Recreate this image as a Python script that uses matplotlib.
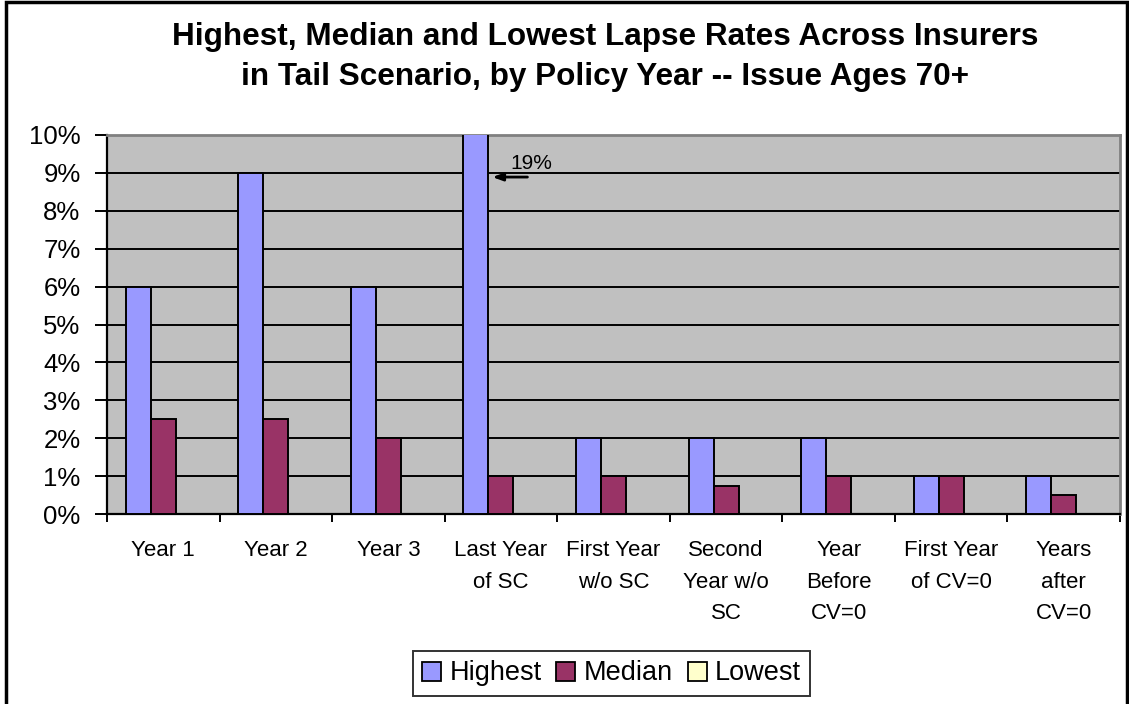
import matplotlib
matplotlib.use("Agg")
import matplotlib.pyplot as plt
import numpy as np
from matplotlib.patches import Rectangle, Patch

plt.rcParams['font.family'] = ['Liberation Sans', 'DejaVu Sans']

categories = ["Year 1", "Year 2", "Year 3", "Last Year\nof SC", "First Year\nw/o SC",
              "Second\nYear w/o\nSC", "Year\nBefore\nCV=0", "First Year\nof CV=0",
              "Years\nafter\nCV=0"]
highest = [6.0, 9.0, 6.0, 19.0, 2.0, 2.0, 2.0, 1.0, 1.0]
median = [2.5, 2.5, 2.0, 1.0, 1.0, 0.75, 1.0, 1.0, 0.5]
lowest = [0.0, 0.0, 0.0, 0.0, 0.0, 0.0, 0.0, 0.0, 0.0]
series_names = ["Highest", "Median", "Lowest"]
series_colors = ["#9999FF", "#993366", "#FFFFCC"]
y_ticks = [0, 1, 2, 3, 4, 5, 6, 7, 8, 9, 10]
callout_text = "19%"

fig = plt.figure(figsize=(11.29, 7.04), dpi=100)
ax = fig.add_axes([107/1129, 1-514/704, (1120-107)/1129, (514-135)/704])
ax.set_facecolor("#C0C0C0")

n = len(categories)
x = np.arange(n)
w = 1/4.5
for k, (vals, name, col) in enumerate(zip([highest, median, lowest], series_names, series_colors)):
    ax.bar(x + (k-1)*w, np.array(vals)/100, width=w, color=col, edgecolor="black",
           linewidth=1.4, zorder=3, label=name)

ax.set_xlim(-0.5, n-0.5)
ax.set_ylim(0, 0.10)
ax.set_yticks(np.array(y_ticks)/100)
ax.set_yticklabels([f"{t}%" for t in y_ticks])
ax.yaxis.grid(True, color="black", linewidth=1.4, zorder=1)
ax.set_axisbelow(True)

# category labels centred, tick marks on category boundaries
ax.set_xticks(x)
ax.set_xticklabels(categories, linespacing=1.65)
ax.tick_params(axis='x', which='major', length=0, pad=19, labelsize=16)
ax.set_xticks(np.arange(n+1)-0.5, minor=True)
ax.tick_params(axis='x', which='minor', length=6, width=1.4, direction='out')
ax.tick_params(axis='y', length=9, width=1.4, pad=10, labelsize=18.5)

for s in ["left", "bottom"]:
    ax.spines[s].set_color("black")
    ax.spines[s].set_linewidth(1.6)
for s in ["top", "right"]:
    ax.spines[s].set_color("#808080")
    ax.spines[s].set_linewidth(2)

# out-of-range value callout for the clipped bar
bar_right = 3 - 0.5*w
ax.annotate("", xy=(bar_right + 0.01, 0.0889), xytext=(3.26, 0.0889),
            arrowprops=dict(arrowstyle="-|>,head_length=0.6,head_width=0.22",
                            color="black", lw=2), zorder=5)
ax.text(3.08, 0.0926, callout_text, fontsize=15, va="center", ha="left", zorder=5)

fig.text(0.536, 1-37/704, "Highest, Median and Lowest Lapse Rates Across Insurers",
         ha="center", va="center", fontsize=22.7, fontweight="bold")
fig.text(0.536, 1-77/704, "in Tail Scenario, by Policy Year -- Issue Ages 70+",
         ha="center", va="center", fontsize=22.7, fontweight="bold")

handles = [Patch(facecolor=c, edgecolor="black", linewidth=1.3) for c in series_colors]
leg = fig.legend(handles, series_names, loc="center", bbox_to_anchor=(611.5/1129, 1-673.5/704),
                 ncol=3, frameon=True, fancybox=False, fontsize=19.5, handlelength=0.7,
                 handleheight=0.7, handletextpad=0.3, columnspacing=0.55, borderpad=0.35,
                 edgecolor="black")
leg.get_frame().set_linewidth(1.4)

fig.patches.append(Rectangle((6/1129, -0.1), (1127-6)/1129, 1.1 - 2/704, transform=fig.transFigure,
                             fill=False, edgecolor="black", linewidth=2.5, clip_on=False))

fig.savefig("out.png", dpi=100)
